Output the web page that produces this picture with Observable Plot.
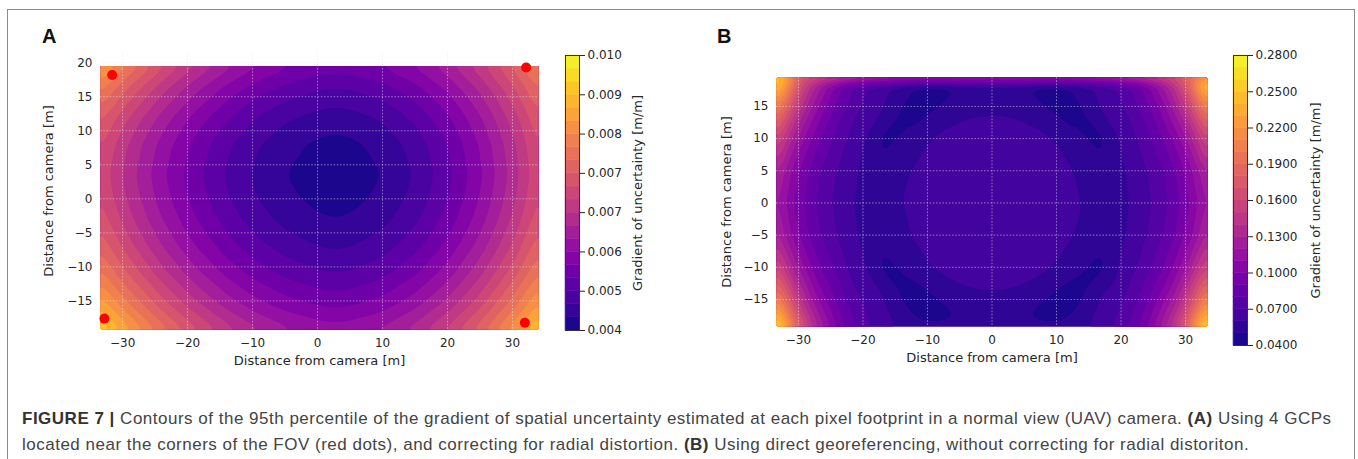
<!DOCTYPE html>
<html><head><meta charset="utf-8">
<script src="https://cdn.jsdelivr.net/npm/d3@7"></script>
<script src="https://cdn.jsdelivr.net/npm/@observablehq/plot@0.6"></script>
<style>
body{margin:0;background:#fff;}
#root{position:relative;width:1358px;height:459px;overflow:hidden;background:#fff;}
#box{position:absolute;left:7px;top:9px;width:1346px;height:480px;border:1px solid #8a8a8a;}
.holder{position:absolute;top:0;}
.holder svg{max-width:none !important;}
.letter{position:absolute;font-family:"Liberation Sans",Arial,sans-serif;font-weight:bold;font-size:20px;line-height:20px;color:#111;}
#caption{position:absolute;left:22px;top:406px;font-family:"Liberation Sans",Arial,sans-serif;font-size:17px;letter-spacing:0.5px;line-height:26px;color:#444;white-space:nowrap;}
#caption b{color:#333;}
</style></head><body>
<div id="root">
  <div id="box"></div>
  <div class="letter" style="left:42px;top:26px;">A</div>
  <div class="letter" style="left:717px;top:26px;">B</div>
  <div class="holder" id="pA" style="left:0px;width:680px;"></div>
  <div class="holder" id="cA" style="left:545px;width:130px;"></div>
  <div class="holder" id="pB" style="left:680px;width:678px;"></div>
  <div class="holder" id="cB" style="left:1213px;width:145px;"></div>
  <div id="caption"><b>FIGURE 7 |</b> Contours of the 95th percentile of the gradient of spatial uncertainty estimated at each pixel footprint in a normal view (UAV) camera. <b>(A)</b> Using 4 GCPs<br>located near the corners of the FOV (red dots), and correcting for radial distortion. <b>(B)</b> Using direct georeferencing, without correcting for radial distoriton.</div>
</div>
<script>
// ---------- Panel A data (gradient of uncertainty, m/m) ----------
const xA = [-33.4, -29, -24, -19, -14, -9.5, -5, 0, 2.5, 5, 10, 15, 20, 25, 30, 34];
const yA = [19.5, 16, 12, 8, 3.5, 0, -3, -7, -11, -15, -19.2];
const gradA = [
  [0.008695, 0.007953, 0.007221, 0.006604, 0.006105, 0.005753, 0.005497, 0.005322, 0.005278, 0.005304, 0.005458, 0.005753, 0.006185, 0.006757, 0.007468, 0.008136],
  [0.008059, 0.007356, 0.006662, 0.006076, 0.005603, 0.005270, 0.005027, 0.004861, 0.004819, 0.004845, 0.005003, 0.005303, 0.005744, 0.006326, 0.007051, 0.007732],
  [0.007523, 0.006852, 0.006190, 0.005632, 0.005180, 0.004862, 0.004630, 0.004472, 0.004432, 0.004459, 0.004618, 0.004923, 0.005371, 0.005963, 0.006699, 0.007391],
  [0.007192, 0.006541, 0.005898, 0.005357, 0.004919, 0.004610, 0.004385, 0.004231, 0.004193, 0.004220, 0.004381, 0.004689, 0.005141, 0.005739, 0.006482, 0.007181],
  [0.007063, 0.006420, 0.005785, 0.005250, 0.004817, 0.004512, 0.004290, 0.004138, 0.004100, 0.004127, 0.004289, 0.004598, 0.005052, 0.005652, 0.006398, 0.007099],
  [0.007158, 0.006509, 0.005869, 0.005330, 0.004894, 0.004586, 0.004363, 0.004209, 0.004171, 0.004198, 0.004361, 0.004671, 0.005127, 0.005730, 0.006480, 0.007184],
  [0.007315, 0.006658, 0.006010, 0.005463, 0.005021, 0.004710, 0.004483, 0.004328, 0.004289, 0.004316, 0.004480, 0.004793, 0.005253, 0.005860, 0.006616, 0.007325],
  [0.007637, 0.006963, 0.006297, 0.005737, 0.005283, 0.004963, 0.004730, 0.004571, 0.004531, 0.004559, 0.004725, 0.005043, 0.005510, 0.006127, 0.006894, 0.007615],
  [0.008086, 0.007388, 0.006698, 0.006117, 0.005647, 0.005315, 0.005074, 0.004909, 0.004868, 0.004896, 0.005067, 0.005391, 0.005868, 0.006499, 0.007282, 0.008019],
  [0.008660, 0.007931, 0.007210, 0.006603, 0.006112, 0.005766, 0.005515, 0.005342, 0.005299, 0.005328, 0.005503, 0.005836, 0.006326, 0.006974, 0.007779, 0.008535],
  [0.009400, 0.008631, 0.007871, 0.007231, 0.006713, 0.006348, 0.006082, 0.005900, 0.005855, 0.005885, 0.006066, 0.006411, 0.006917, 0.007587, 0.008419, 0.009201]
];
// GCP locations (red dots)
const gcpX = [-31.6, 32.1, -32.8, 31.9];
const gcpY = [18.2, 19.3, -17.6, -18.2];

// ---------- Panel B data ----------
const xB = [-33.4, -32, -30, -28, -26, -23, -20, -17, -13, -8, -4, 0, 4, 8, 13, 17, 20, 23, 26, 28, 30, 32, 33.4];
const yB = [19.3, 17, 14, 10, 5, 0, -5, -10, -14, -17, -19.2];
const gradB = [
  [0.270, 0.235, 0.180, 0.145, 0.120, 0.092, 0.075, 0.065, 0.055, 0.054, 0.054, 0.054, 0.054, 0.054, 0.055, 0.065, 0.075, 0.092, 0.120, 0.145, 0.180, 0.235, 0.270],
  [0.2375, 0.207, 0.161, 0.131, 0.110, 0.086, 0.071, 0.063, 0.051, 0.045, 0.054, 0.055, 0.054, 0.045, 0.051, 0.063, 0.071, 0.086, 0.110, 0.131, 0.161, 0.207, 0.2375],
  [0.201, 0.176, 0.140, 0.116, 0.098, 0.079, 0.0665, 0.060, 0.046, 0.054, 0.058, 0.0594, 0.058, 0.054, 0.046, 0.060, 0.0665, 0.079, 0.098, 0.116, 0.140, 0.176, 0.201],
  [0.164, 0.1435, 0.118, 0.0996, 0.0863, 0.0715, 0.0618, 0.048, 0.055, 0.062, 0.066, 0.066, 0.066, 0.062, 0.055, 0.048, 0.0618, 0.0715, 0.0863, 0.0996, 0.118, 0.1435, 0.164],
  [0.135, 0.118, 0.1007, 0.0872, 0.0771, 0.0659, 0.058, 0.054, 0.0596, 0.066, 0.066, 0.066, 0.066, 0.066, 0.0596, 0.054, 0.058, 0.0659, 0.0771, 0.0872, 0.1007, 0.118, 0.135],
  [0.125, 0.110, 0.095, 0.083, 0.074, 0.064, 0.057, 0.054, 0.0615, 0.066, 0.066, 0.066, 0.066, 0.066, 0.0615, 0.054, 0.057, 0.064, 0.074, 0.083, 0.095, 0.110, 0.125],
  [0.135, 0.118, 0.1007, 0.0872, 0.0771, 0.0659, 0.058, 0.054, 0.0596, 0.066, 0.066, 0.066, 0.066, 0.066, 0.0596, 0.054, 0.058, 0.0659, 0.0771, 0.0872, 0.1007, 0.118, 0.135],
  [0.164, 0.1435, 0.118, 0.0996, 0.0863, 0.0715, 0.0618, 0.048, 0.055, 0.062, 0.066, 0.066, 0.066, 0.062, 0.055, 0.048, 0.0618, 0.0715, 0.0863, 0.0996, 0.118, 0.1435, 0.164],
  [0.201, 0.176, 0.140, 0.116, 0.098, 0.079, 0.0665, 0.060, 0.046, 0.054, 0.058, 0.0594, 0.058, 0.054, 0.046, 0.060, 0.0665, 0.079, 0.098, 0.116, 0.140, 0.176, 0.201],
  [0.2375, 0.207, 0.161, 0.131, 0.110, 0.086, 0.071, 0.063, 0.051, 0.045, 0.054, 0.055, 0.054, 0.045, 0.051, 0.063, 0.071, 0.086, 0.110, 0.131, 0.161, 0.207, 0.2375],
  [0.268, 0.233, 0.179, 0.144, 0.119, 0.091, 0.074, 0.065, 0.055, 0.054, 0.054, 0.054, 0.054, 0.054, 0.055, 0.065, 0.074, 0.091, 0.119, 0.144, 0.179, 0.233, 0.268]
];
// extra samples along the four dark crescents of panel B (upper-left arc, mirrored quadrants listed explicitly)
const crescentX = [-17.0, -15.9, -14.4, -12.6, -10.5, -8.5, -6.7,
                    17.0,  15.9,  14.4,  12.6,  10.5,  8.5,  6.7,
                   -17.0, -15.9, -14.4, -12.6, -10.5, -8.5, -6.7,
                    17.0,  15.9,  14.4,  12.6,  10.5,  8.5,  6.7];
const crescentY = [7.9, 10.0, 12.1, 14.0, 15.6, 16.8, 17.6,
                   7.9, 10.0, 12.1, 14.0, 15.6, 16.8, 17.6,
                   -7.9, -10.0, -12.1, -14.0, -15.6, -16.8, -17.6,
                   -7.9, -10.0, -12.1, -14.0, -15.6, -16.8, -17.6];
const crescentV = [0.049, 0.047, 0.046, 0.044, 0.043, 0.043, 0.048,
                   0.049, 0.047, 0.046, 0.044, 0.043, 0.043, 0.048,
                   0.049, 0.047, 0.046, 0.044, 0.043, 0.043, 0.048,
                   0.049, 0.047, 0.046, 0.044, 0.043, 0.043, 0.048];

// ---------- ticks / labels ----------
const xTicks = [-30, -20, -10, 0, 10, 20, 30];
const yTicksA = [-15, -10, -5, 0, 5, 10, 15, 20];
const yTicksB = [-15, -10, -5, 0, 5, 10, 15];
const cbRangeA = [0.004, 0.010];
const cbLevelsA = 21;
const cbTicksA = [0.004, 0.0048571, 0.0057143, 0.0065714, 0.0074286, 0.0082857, 0.0091429, 0.010];
const cbLabelsA = ["0.004", "0.005", "0.006", "0.007", "0.007", "0.008", "0.009", "0.010"];
const cbRangeB = [0.04, 0.28];
const cbLevelsB = 24;
const cbTicksB = [0.04, 0.07, 0.10, 0.13, 0.16, 0.19, 0.22, 0.25, 0.28];
const cbLabelsB = ["0.0400", "0.0700", "0.1000", "0.1300", "0.1600", "0.1900", "0.2200", "0.2500", "0.2800"];
const axisLabel = "Distance from camera [m]";
const cbLabel = "Gradient of uncertainty [m/m]";

// ---------- build ----------
function gridPoints(xs, ys, vals) {
  const out = [];
  ys.forEach((y, j) => xs.forEach((x, i) => out.push({x, y, v: vals[j][i]})));
  return out;
}
const pointsA = gridPoints(xA, yA, gradA);
const pointsB = gridPoints(xB, yB, gradB).concat(crescentX.map((x, i) => ({x, y: crescentY[i], v: crescentV[i]})));
const gcps = gcpX.map((x, i) => ({x, y: gcpY[i]}));

function levels(range, n) {
  const step = (range[1] - range[0]) / n;
  return {step, list: d3.range(n).map(i => range[0] + i * step)};
}
const LA = levels(cbRangeA, cbLevelsA), LB = levels(cbRangeB, cbLevelsB);
function colorOpts(range, step) {
  return {type: "linear", scheme: "plasma", domain: [range[0] - step / 2, range[1] - step / 2], clamp: true};
}
const fmtMinus = d => d < 0 ? "\u2212" + (-d) : String(d);
const baseStyle = {fontFamily: "DejaVu Sans", fontSize: "12px", color: "#262626", background: "none", overflow: "visible"};
const gridStyle = {stroke: "#e8e8e8", strokeOpacity: 0.55, strokeWidth: 0.9, strokeDasharray: "1.6,1.6"};

function panel({pts, xDom, yDom, bounds, yTicks, L, range, geo, dots, ylabDx}) {
  return Plot.plot({
    width: geo.w, height: 400,
    marginLeft: geo.ml, marginRight: geo.mr, marginTop: geo.mt, marginBottom: geo.mb,
    x: {domain: xDom, ticks: xTicks, tickFormat: fmtMinus, tickSize: 0, tickPadding: 9, label: null},
    y: {domain: yDom, ticks: yTicks, tickFormat: fmtMinus, tickSize: 0, tickPadding: 8, label: null},
    color: colorOpts(range, L.step),
    style: baseStyle,
    marks: [
      Plot.contour(pts, {x: "x", y: "y", fill: "v", interpolate: "barycentric", thresholds: L.list,
        x1: bounds[0], x2: bounds[1], y1: bounds[2], y2: bounds[3], blur: 2, stroke: "none"}),
      Plot.gridX(xTicks, gridStyle),
      Plot.gridY(yTicks, gridStyle),
      dots ? Plot.dot(dots, {x: "x", y: "y", r: 5, fill: "#ff0000", stroke: "none"}) : null,
      Plot.text([axisLabel], {text: d => d, frameAnchor: "bottom", dy: 35, fontSize: 13, fill: "#262626", textAnchor: "middle"}),
      Plot.text([axisLabel], {text: d => d, frameAnchor: "left", dx: ylabDx, rotate: -90, fontSize: 13, fill: "#262626", textAnchor: "middle"})
    ]
  });
}
function colorbar({L, range, ticks, labels, geo, labDx}) {
  const m = new Map(ticks.map((t, i) => [t, labels[i]]));
  return Plot.plot({
    width: geo.w, height: 400,
    marginLeft: geo.ml, marginRight: geo.mr, marginTop: geo.mt, marginBottom: geo.mb,
    x: {domain: [0, 1], axis: null},
    y: {domain: range, ticks: ticks, tickFormat: d => m.get(d) ?? "", axis: "right", tickSize: 5, tickPadding: 3, label: null},
    color: colorOpts(range, L.step),
    style: baseStyle,
    marks: [
      Plot.rect(L.list, {x1: 0, x2: 1, y1: d => d, y2: d => d + L.step, fill: d => d, stroke: d => d, strokeWidth: 0.5}),
      Plot.frame({stroke: "#333", strokeWidth: 1}),
      Plot.text([cbLabel], {text: d => d, frameAnchor: "right", dx: labDx, rotate: -90, fontSize: 13, fill: "#262626", textAnchor: "middle"})
    ]
  });
}

document.getElementById("pA").append(panel({
  pts: pointsA, xDom: [-33.4, 34.0], yDom: [-19.2, 21.5], bounds: [-33.4, 34.0, -19.2, 19.5],
  yTicks: yTicksA, L: LA, range: cbRangeA, dots: gcps, ylabDx: -52,
  geo: {w: 680, ml: 100, mr: 142, mt: 52, mb: 71}
}));
document.getElementById("pB").append(panel({
  pts: pointsB, xDom: [-33.4, 33.4], yDom: [-19.2, 19.5], bounds: [-33.4, 33.4, -19.2, 19.5],
  yTicks: yTicksB, L: LB, range: cbRangeB, dots: null, ylabDx: -50,
  geo: {w: 678, ml: 96, mr: 151, mt: 77, mb: 74}
}));
document.getElementById("cA").append(colorbar({
  L: LA, range: cbRangeA, ticks: cbTicksA, labels: cbLabelsA, labDx: 58,
  geo: {w: 130, ml: 20, mr: 96, mt: 55, mb: 70}
}));
document.getElementById("cB").append(colorbar({
  L: LB, range: cbRangeB, ticks: cbTicksB, labels: cbLabelsB, labDx: 68,
  geo: {w: 145, ml: 20, mr: 111, mt: 55, mb: 55}
}));
</script>
</body></html>
